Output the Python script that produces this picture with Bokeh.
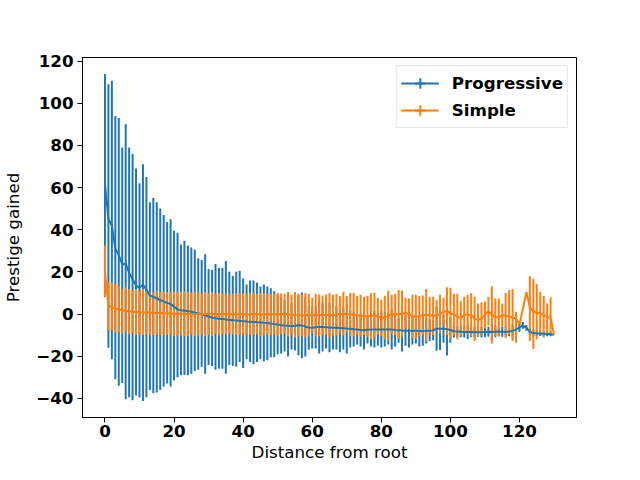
from bokeh.plotting import figure
from bokeh.models import (ColumnDataSource, Range1d, Legend, LegendItem,
                          FixedTicker, CustomJSTickFormatter)
from bokeh.embed import file_html
from bokeh.resources import INLINE

distance = list(range(131))

# Progressive: mean, lower and upper end of error bar
p_mean = [62, 45, 42, 31, 28, 23.5, 24, 19.5, 16.5, 13.5,
          12.5, 14, 11.5, 8.8, 8.1, 7.5, 6.5, 6, 5.2, 4.8,
          3.5, 2.2, 1.8, 1.6, 1.4, 1.1, 0.6, 0.3, -0.1, -0.6,
          -1.2, -1.8, -2.0, -2.2, -2.4, -2.6, -2.8, -3.0, -3.1, -3.2,
          -3.4, -3.6, -3.7, -3.8, -3.9, -4.0, -4.2, -4.3, -4.5, -4.8,
          -5.0, -5.3, -5.5, -5.6, -5.7, -5.6, -5.3, -5.4, -6.0, -6.4,
          -6.5, -6.3, -6.2, -6.2, -6.3, -6.4, -6.5, -6.5, -6.6, -6.7,
          -6.9, -7.0, -7.2, -7.4, -7.6, -7.7, -7.5, -7.3, -7.3, -7.3,
          -7.3, -7.3, -7.3, -7.4, -7.6, -7.7, -7.8, -7.9, -7.9, -8.0,
          -8.0, -8.1, -8.1, -8.0, -7.9, -7.8, -7.0, -7.0, -7.0, -7.2,
          -7.6, -8.2, -8.3, -8.4, -8.5, -8.5, -8.5, -8.6, -8.6, -8.6,
          -8.5, -8.4, -8.5, -8.4, -8.3, -8.4, -8.5, -8.3, -8.0, -7.4,
          -6.3, -5.4, -6.6, -8.5, -9.0, -9.2, -9.3, -9.4, -9.5, -9.6,
          -9.8]
p_lo = [10, -16, -21.5, -31, -34, -32.7, -40.4, -39.5, -40.9, -38.7,
        -39.5, -41.3, -39.5, -36, -37.6, -37.2, -36, -34.4, -33, -34.4,
        -31.6, -30, -29, -28.9, -29, -28.4, -27, -26.5, -25, -28.4,
        -24.2, -24.7, -26.5, -26, -26, -28.4, -24.2, -24.7, -25, -22.8,
        -25.6, -21.5, -22.8, -23.8, -22.8, -21.5, -22.4, -21.9, -20.5, -20.5,
        -19.1, -18.7, -17.8, -20.1, -16.8, -17.3, -19.6, -21, -20.1, -16.8,
        -16.4, -16.4, -18.7, -17.8, -16.4, -18.2, -16.8, -16.8, -18.2, -16.8,
        -18.7, -15.9, -15.4, -14.5, -15.4, -16.8, -14, -15.4, -15.9, -15,
        -15.9, -15.4, -14.5, -16.8, -15.4, -13.6, -17.8, -15, -15.9, -14.5,
        -14, -15.4, -15.1, -14, -12.8, -12.5, -17.4, -17.1, -13.6, -19.7,
        -13.6, -11.2, -11, -11, -11.2, -11.8, -11, -11.2, -10.8, -11.2,
        -11, -10.8, -12.3, -11, -10.5, -10.8, -11.2, -10.5, -11, -9.5,
        -8.5, -7.0, -8.0, -10, -10.5, -10.4, -10.4, -10.4, -10.5, -10.6,
        -9.8]
p_hi = [113.9, 109, 110.7, 94, 93, 79, 90, 79, 76, 69,
        62, 71, 65, 53, 55, 53, 50, 47, 43.6, 45,
        39.5, 38.5, 33, 34.8, 32.5, 31.6, 30.6, 26.5, 25.6, 28.3,
        21.4, 21, 23.7, 21.9, 21.9, 25.1, 20, 18.2, 20, 20.5,
        16.8, 14, 15.9, 15.9, 14.9, 13.1, 14, 13.1, 12.2, 10.8,
        9.1, 8.1, 6.8, 8.9, 5.4, 6.1, 9.0, 10.2, 8.1, 4.0,
        3.4, 3.8, 6.3, 5.4, 3.8, 5.4, 3.8, 3.8, 5.0, 3.4,
        4.9, 1.9, 1.0, -0.3, 0.2, 1.4, -1.0, 0.8, 1.3, 0.4,
        1.3, 0.8, -0.1, 2.0, 0.2, -1.8, 2.2, -0.8, 0.1, -1.5,
        -2.0, -0.8, -1.1, -2.0, -3.0, -3.1, 3.4, 3.1, -0.4, 5.3,
        -1.6, -5.2, -5.6, -5.8, -5.8, -5.2, -6.0, -6.0, -6.4, -6.0,
        -6.0, -6.0, -4.7, -5.8, -6.1, -6.0, -5.8, -6.1, -5.0, -5.3,
        -4.1, -3.8, -5.2, -7.0, -7.5, -8.0, -8.2, -8.4, -8.5, -8.6,
        -9.8]

# Simple: mean, lower and upper end of error bar
s_mean = [20, 4, 3.2, 2.6, 2.1, 1.8, 1.5, 1.3, 1.1, 0.9,
          0.7, 0.7, 0.8, 0.7, 0.6, 0.5, 0.5, 0.4, 0.3, 0.2,
          0.1, 0.2, 0.1, 0.1, 0.0, 0.1, 0.0, 0.1, 0.0, -0.1,
          0.0, 0.0, 0.1, -0.1, 0.0, 0.0, -0.1, 0.0, -0.1, 0.0,
          -0.1, -0.2, -0.1, 0.1, 0.0, -0.2, -0.2, -0.1, -0.2, 0.0,
          -0.2, 0.0, 0.1, -0.1, -0.3, -0.3, -0.5, -0.6, -0.6, -0.5,
          -0.6, -0.5, -0.6, -0.5, -0.4, -0.6, -0.6, -0.3, -0.1, 0.1,
          0.1, -0.2, -0.3, -0.6, -0.8, -0.9, -1.1, -1.0, -0.6, -1.0,
          -1.8, -1.7, -0.8, 0.0, -0.1, -0.2, 0.2, 0.4, 0.1, -1.2,
          -1.2, -1.0, -0.6, -0.4, -0.6, -0.9, -0.6, 0.0, 1.1, 1.4,
          0.3, -0.3, -1.2, -2.0, -0.4, -0.3, -0.4, -2.3, -2.8, -2.2,
          -0.4, 1.4, -0.4, -1.5, -1.6, -0.5, -0.8, -1.2, -1.6, -2.2,
          -5.0, 2.6, 10.4, 3.2, 1.3, 0.6, 0.2, -0.4, -1.2, -2.0,
          -9.8]
s_lo = [7.9, -7.6, -7.3, -8.8, -8.8, -9.1, -8.5, -9.6, -9.1, -10.0,
        -9.7, -10.0, -9.5, -9.9, -9.9, -9.9, -10.0, -9.8, -9.9, -9.8,
        -10.2, -10.2, -10.1, -10.4, -10.3, -9.8, -10.3, -10.1, -9.6, -10.5,
        -9.9, -10.3, -9.4, -10.2, -9.6, -9.6, -9.5, -9.6, -9.8, -10.0,
        -10.1, -10.0, -9.8, -9.8, -9.6, -10.4, -10.1, -9.8, -10.0, -9.6,
        -10.4, -9.7, -9.4, -10.7, -9.7, -11.1, -10.6, -10.5, -11.2, -10.6,
        -8.9, -10.6, -10.5, -9.8, -9.9, -11.2, -10.3, -10.2, -8.8, -10.3,
        -8.4, -10.4, -10.6, -9.8, -10.7, -10.0, -10.8, -12.0, -11.2, -9.7,
        -10.4, -12.0, -12.6, -9.1, -9.8, -11.8, -10.8, -6.9, -7.1, -11.5,
        -11.5, -10.6, -10.0, -12.7, -9.4, -10.0, -7.7, -9.1, -5.5, -9.9,
        -11.8, -10.2, -12.0, -10.2, -9.0, -9.7, -10.7, -12.8, -10.6, -9.9,
        -6.7, -5.4, -14.0, -10.3, -10.5, -6.0, -11.2, -9.7, -12.8, -13.6,
        -5.0, 2.6, 10.4, -12.8, -16.6, -12.0, -9.7, -11.2, -9.7, -9.0,
        -9.8]
s_hi = [32.5, 15, 15, 14.2, 13.4, 11.9, 12.7, 11.9, 11.4, 11.9,
        11.1, 11.9, 10.8, 10.3, 10.3, 10.8, 10.3, 10.6, 10.3, 10.2,
        10.6, 10.6, 10.3, 10.6, 10.3, 10.0, 10.3, 10.3, 9.6, 10.3,
        9.9, 10.3, 9.6, 10.0, 9.6, 9.6, 9.3, 9.6, 9.6, 10.0,
        9.9, 9.6, 9.6, 10.0, 9.6, 10.0, 9.7, 9.6, 9.6, 9.6,
        10.0, 9.7, 9.6, 10.5, 9.1, 10.5, 9.6, 9.3, 10.0, 9.6,
        7.7, 9.6, 9.3, 8.8, 9.1, 10.0, 9.1, 9.6, 8.6, 10.5,
        8.6, 10.0, 10.0, 8.6, 9.1, 8.2, 8.6, 10.0, 10.0, 7.7,
        6.8, 8.6, 11.0, 9.1, 9.6, 11.4, 11.2, 7.7, 7.3, 9.1,
        9.1, 8.6, 8.8, 11.9, 8.2, 8.2, 6.5, 9.1, 7.7, 12.7,
        12.4, 9.6, 9.6, 6.2, 8.2, 9.1, 9.9, 8.2, 5.0, 5.5,
        5.9, 8.2, 13.2, 7.3, 7.3, 5.0, 10.0, 11.4, 11.9, 1.1,
        -5.0, 2.6, 10.4, 18.0, 16.8, 14.2, 10.6, 8.5, 5.0, 8.0,
        -9.8]

x_ticks = [0, 20, 40, 60, 80, 100, 120]
y_ticks = [-40, -20, 0, 20, 40, 60, 80, 100, 120]
series_names = ["Progressive", "Simple"]
colors = ["#1f77b4", "#ff7f0e"]
FONT = "DejaVu Sans"
FS = "16.7px"

src_p = ColumnDataSource(dict(x=distance, m=p_mean, lo=p_lo, hi=p_hi))
src_s = ColumnDataSource(dict(x=distance, m=s_mean, lo=s_lo, hi=s_hi))

p = figure(width=624, height=464, output_backend="svg", toolbar_location=None,
           x_range=Range1d(-6.5, 136.5), y_range=Range1d(-49.1, 121.7),
           min_border_left=80, min_border_right=48, min_border_top=57,
           min_border_bottom=47)
p.background_fill_color = "white"
p.border_fill_color = "white"
p.xgrid.visible = False
p.ygrid.visible = False
p.outline_line_color = "black"
p.outline_line_width = 1
p.outline_line_alpha = 1

# error bars first, then the mean lines (matplotlib draw order)
p.segment(x0="x", y0="lo", x1="x", y1="hi", source=src_p,
          line_color=colors[0], line_width=2)
p.segment(x0="x", y0="lo", x1="x", y1="hi", source=src_s,
          line_color=colors[1], line_width=2)
lp = p.line("x", "m", source=src_p, line_color=colors[0], line_width=2)
ls = p.line("x", "m", source=src_s, line_color=colors[1], line_width=2)
# zero-size cross markers: only used to give legend entries the errorbar look
cp = p.scatter("x", "m", source=src_p, marker="cross", size=0,
               line_color=colors[0], line_width=2)
cs = p.scatter("x", "m", source=src_s, marker="cross", size=0,
               line_color=colors[1], line_width=2)

for ax in (p.xaxis[0], p.yaxis[0]):
    ax.axis_line_color = "black"
    ax.axis_line_width = 1
    ax.major_tick_line_color = "black"
    ax.major_tick_line_width = 1
    ax.major_tick_out = 5
    ax.major_tick_in = 0
    ax.minor_tick_line_color = None
    ax.major_label_text_font = FONT
    ax.major_label_text_font_style = "bold"
    ax.major_label_text_font_size = FS
    ax.major_label_text_color = "black"
    ax.axis_label_text_font = FONT
    ax.axis_label_text_font_style = "normal"
    ax.axis_label_text_font_size = FS
    ax.axis_label_text_color = "black"

p.xaxis.major_label_standoff = 2
p.xaxis.axis_label_standoff = 2
p.yaxis.major_label_standoff = 4
p.yaxis.axis_label_standoff = 10

p.xaxis.ticker = FixedTicker(ticks=x_ticks)
p.yaxis.ticker = FixedTicker(ticks=y_ticks)
p.yaxis.formatter = CustomJSTickFormatter(
    code="return tick < 0 ? '\u2212' + Math.abs(tick) : String(tick);")
p.xaxis.axis_label = "Distance from root"
p.yaxis.axis_label = "Prestige gained"

legend = Legend(items=[LegendItem(label=series_names[0], renderers=[lp, cp]),
                       LegendItem(label=series_names[1], renderers=[ls, cs])],
                location="top_right")
legend.label_text_font = FONT
legend.label_text_font_style = "bold"
legend.label_text_font_size = FS
legend.label_text_color = "black"
legend.border_line_color = "#cccccc"
legend.border_line_width = 1
legend.background_fill_alpha = 0.8
legend.glyph_width = 38
legend.glyph_height = 26
legend.label_height = 26
legend.spacing = 1
legend.padding = 4
legend.margin = 8
legend.label_standoff = 13
p.add_layout(legend)

open("out.html", "w").write(file_html(p, INLINE))
